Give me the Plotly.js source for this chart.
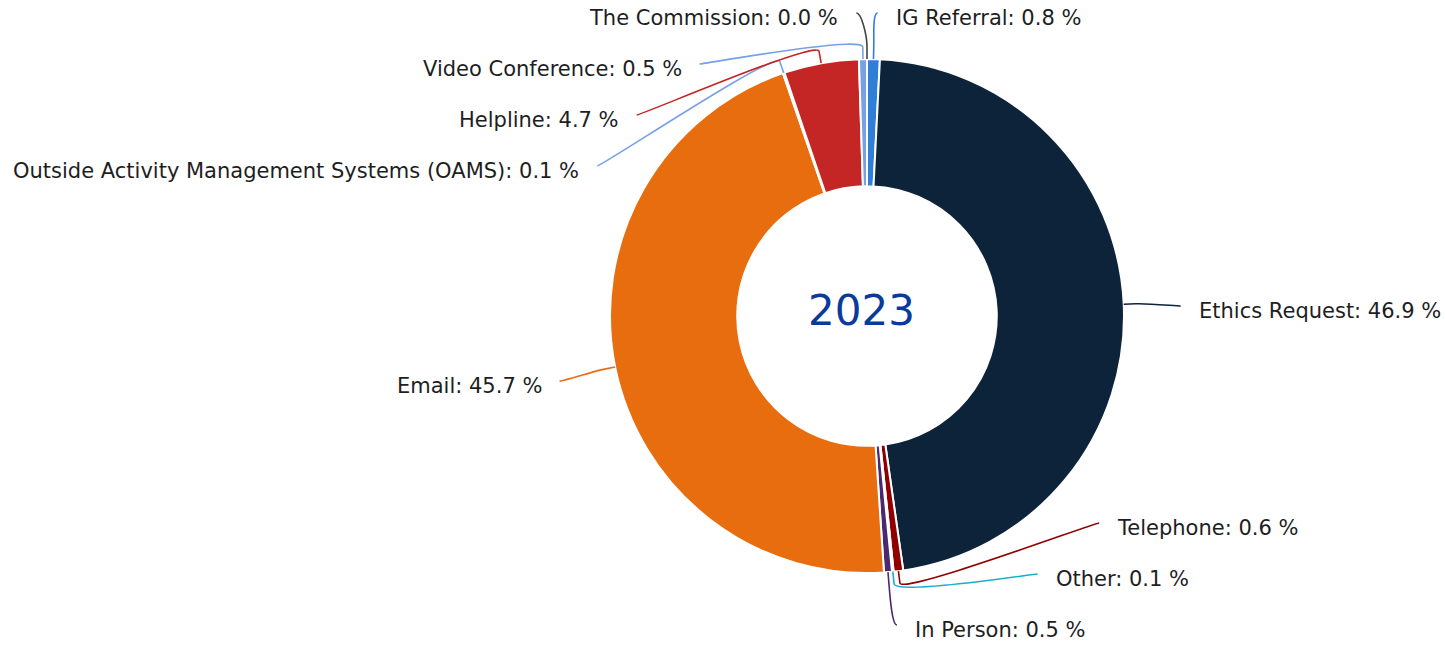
<!DOCTYPE html>
<html>
<head>
<meta charset="utf-8">
<script src="https://cdn.plot.ly/plotly-3.0.1.min.js"></script>
<style>
  html, body { margin: 0; padding: 0; background: #ffffff; }
  #chart { width: 1445px; height: 645px; }
</style>
</head>
<body>
<div id="chart"></div>
<script>
// ---- Data ----
const categories = [
  "IG Referral",
  "Ethics Request",
  "Telephone",
  "Other",
  "In Person",
  "Email",
  "Outside Activity Management Systems (OAMS)",
  "Helpline",
  "Video Conference",
  "The Commission"
];
const shares = [0.8, 46.9, 0.6, 0.1, 0.5, 45.7, 0.1, 4.7, 0.5, 0.0];
const sliceColors = [
  "#2f7ed8", "#0d233a", "#910000", "#1aadce", "#492970",
  "#e86d0f", "#77a1e5", "#c42525", "#77a1e5", "#434348"
];
const centerLabel = "2023";

// ---- Layout geometry (pixels) ----
const W = 1445, H = 645;
const cx = 867, cy = 316, R = 257;          // pie centre and outer radius
const holeRatio = 0.505;
const lblA = 330, lblB = 308, lblCy = 325;  // ellipse on which label text edges sit
const lblTop = 18, lblBottom = 630, lblGap = 51;
const textPad = 16, connOffset = 12, connRise = 5;
const fontFamily = "DejaVu Sans, Verdana, sans-serif";

const px = x => x / W;
const py = y => 1 - y / H;

// ---- slice angles (clockwise from 12 o'clock) ----
const total = shares.reduce((a, b) => a + b, 0);
let cum = 0;
const items = shares.map((v, i) => {
  const mid = (cum + v / 2) / total * 2 * Math.PI;
  cum += v;
  return { i, theta: mid, right: Math.sin(mid) > 0 || mid < 1e-9 };
});

// natural label y then distribute per side
items.forEach(it => { it.y = lblCy - lblB * Math.cos(it.theta); });
function distribute(list) {
  for (let k = 0; k < list.length; k++) {
    const prev = k > 0 ? list[k - 1].y + lblGap : lblTop;
    list[k].y = Math.max(list[k].y, prev);
  }
  for (let k = list.length - 1; k >= 0; k--) {
    const next = k < list.length - 1 ? list[k + 1].y - lblGap : lblBottom;
    list[k].y = Math.min(list[k].y, next);
  }
}
const rightSide = items.filter(it => it.right).sort((a, b) => a.theta - b.theta);
const leftSide = items.filter(it => !it.right).sort((a, b) => b.theta - a.theta);
distribute(rightSide);
distribute(leftSide);

const annotations = [];
const shapes = [];
items.forEach(it => {
  const s = it.right ? 1 : -1;
  const t = (it.y - lblCy) / lblB;
  const dx = lblA * Math.sqrt(Math.max(0, 1 - t * t));
  const textX = cx + s * dx;
  const ax = textX - s * textPad;
  const ay = it.y - connRise;
  const tx = cx + R * Math.sin(it.theta), ty = cy - R * Math.cos(it.theta);
  const bx = cx + (R + connOffset) * Math.sin(it.theta), by = cy - (R + connOffset) * Math.cos(it.theta);
  const c1x = ax - s * 5, c1y = ay;
  const c2x = 2 * bx - tx, c2y = 2 * by - ty;
  const path = `M ${px(ax)},${py(ay)} C ${px(c1x)},${py(c1y)} ${px(c2x)},${py(c2y)} ${px(bx)},${py(by)} L ${px(tx)},${py(ty)}`;
  shapes.push({
    type: "path", xref: "paper", yref: "paper", path,
    line: { color: sliceColors[it.i], width: 1.6 }, layer: "above"
  });
  annotations.push({
    xref: "paper", yref: "paper", x: px(textX), y: py(it.y),
    xanchor: it.right ? "left" : "right", yanchor: "middle",
    text: categories[it.i] + ": " + shares[it.i].toFixed(1) + " %",
    showarrow: false,
    font: { family: fontFamily, size: 21, color: "#1e1e1e" }
  });
});

annotations.push({
  xref: "paper", yref: "paper", x: px(cx - 6), y: py(cy - 5),
  xanchor: "center", yanchor: "middle", text: centerLabel, showarrow: false,
  font: { family: fontFamily, size: 42, color: "#0a3a9e" }
});

const trace = {
  type: "pie",
  labels: categories,
  values: shares,
  sort: false,
  direction: "clockwise",
  rotation: 0,
  hole: holeRatio,
  textinfo: "none",
  hoverinfo: "label+percent",
  marker: { colors: sliceColors, line: { color: "#ffffff", width: 2 } },
  domain: { x: [px(cx - R), px(cx + R)], y: [py(cy + R), py(cy - R)] },
  showlegend: false
};

const layout = {
  width: W, height: H,
  margin: { l: 0, r: 0, t: 0, b: 0 },
  paper_bgcolor: "#ffffff",
  showlegend: false,
  annotations, shapes
};

Plotly.newPlot("chart", [trace], layout, { displayModeBar: false, staticPlot: true });
</script>
</body>
</html>
